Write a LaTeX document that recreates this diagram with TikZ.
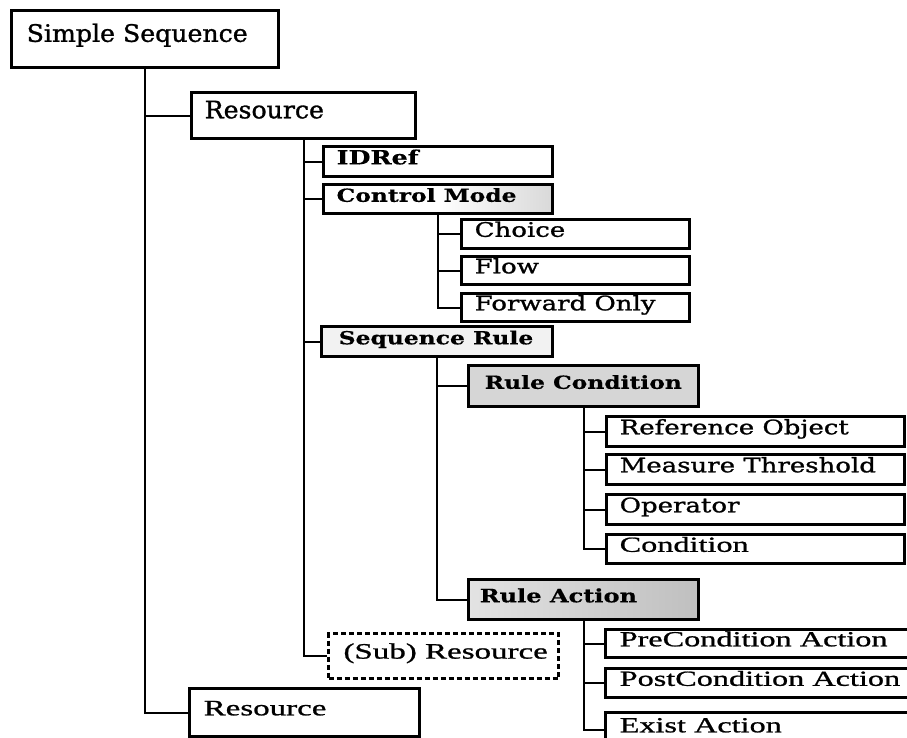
\documentclass[tikz,border=0pt]{standalone}
\usepackage{fontspec}
\newfontfamily\sbfont[FakeStretch=1.3,FakeBold=1.2]{DejaVu Serif}
\newfontfamily\sbboldfont[FakeStretch=1.3,FakeBold=0.5]{DejaVu Serif Bold}
\newfontfamily\sbbigfont[FakeStretch=1.05,FakeBold=1.2]{DejaVu Serif}
\newfontfamily\tmfont[FakeStretch=1.5,FakeBold=1.0]{Liberation Serif}
% fixed-width, left-aligned label line
\newcommand\lblline[2]{\makebox[#1pt][l]{#2}}
\begin{document}
\begin{tikzpicture}[x=1pt,y=-1pt,
  box/.style={draw=black, line width=3.4pt, fill=white, inner ysep=0pt,
    anchor=north west, text height=0.72em, text depth=0.2em},
  dashbox/.style={box, dash pattern=on 5pt off 3pt, line width=3pt},
  big/.style={font=\sbbigfont\fontsize{24}{26}\selectfont},
  sb/.style={font=\sbfont\fontsize{20}{22}\selectfont},
  sbb/.style={font=\sbboldfont\fontsize{18}{20}\selectfont},
  sbbl/.style={font=\sbboldfont\fontsize{18.5}{21}\selectfont},
  tm/.style={font=\tmfont\fontsize{21.5}{23}\selectfont},
  tml/.style={font=\tmfont\fontsize{22}{24}\selectfont},
  conn/.style={draw=black, line width=2.4pt},
]
\useasboundingbox (0,0) rectangle (907,737);

% root and first level
\node[box, big, inner xsep=15pt, minimum height=57pt] (ss) at (10,9) {\lblline{237}{Simple Sequence}};
\node[box, big, inner xsep=13pt, minimum height=46pt] (res1) at (190,91) {\lblline{198}{Resource}};
\node[box, tml, inner xsep=14pt, minimum height=48pt] (res2) at (188,687) {\lblline{202}{Resource}};

% children of the resource
\node[box, font=\sbboldfont\fontsize{19.5}{22}\selectfont, inner xsep=13pt, minimum height=30pt] (idref) at (322,145) {\lblline{203}{IDRef}};
\node[box, sbb, inner xsep=13pt, minimum height=29pt,
      left color=white, right color=gray!30, middle color=white] (cm) at (322,183) {\lblline{203}{Control Mode}};
\node[box, sbb, inner xsep=17pt, minimum height=30pt, fill=gray!10] (seqrule) at (320,325) {\lblline{197}{Sequence Rule}};
\node[dashbox, tml, inner xsep=15pt, minimum height=45pt] (sub) at (327,632) {\lblline{200}{(Sub) Resource}};

% control modes
\node[box, sb, inner xsep=13pt, minimum height=29pt] (choice) at (460,218) {\lblline{202}{Choice}};
\node[box, sb, inner xsep=13pt, minimum height=28pt] (flow) at (460,255) {\lblline{202}{Flow}};
\node[box, sb, inner xsep=13pt, minimum height=28pt] (fwd) at (460,292) {\lblline{202}{Forward Only}};

% rule condition and its parts
\node[box, font=\sbboldfont\fontsize{18}{20}\selectfont, inner xsep=16pt, minimum height=41pt, fill=gray!32] (rc) at (467,364) {\lblline{198}{Rule Condition}};
\node[box, sb, inner xsep=13pt, minimum height=30pt] (refobj) at (605,415) {\lblline{272}{Reference Object}};
\node[box, sb, inner xsep=13pt, minimum height=30pt] (meas) at (605,453) {\lblline{272}{Measure Threshold}};
\node[box, sb, inner xsep=13pt, minimum height=30pt] (oper) at (605,493) {\lblline{272}{Operator}};
\node[box, tm, inner xsep=13pt, minimum height=29pt] (cond) at (605,533) {\lblline{272}{Condition}};

% rule action and its parts
\node[box, sbbl, inner xsep=11pt, minimum height=40pt,
      left color=gray!22, right color=gray!50] (ra) at (467,578) {\lblline{208}{Rule Action}};
\node[box, tm, inner xsep=14pt, minimum height=28pt] (pre) at (604,628) {\lblline{282}{PreCondition Action}};
\node[box, tm, inner xsep=14pt, minimum height=29pt] (post) at (604,667) {\lblline{282}{PostCondition Action}};
\node[box, tm, inner xsep=14pt, minimum height=34pt] (exist) at (604,711) {\lblline{282}{Exist Action}};

% tree connectors
\draw[conn] (ss.south) |- (res1.west);
\draw[conn] (ss.south) |- (res2.west);
\draw[conn] (res1.south) |- (idref.west);
\draw[conn] (res1.south) |- (cm.west);
\draw[conn] (res1.south) |- (seqrule.west);
\draw[conn] (res1.south) |- (sub.west);
\draw[conn] (cm.south) |- (choice.west);
\draw[conn] (cm.south) |- (flow.west);
\draw[conn] (cm.south) |- (fwd.west);
\draw[conn] (seqrule.south) |- (rc.west);
\draw[conn] (seqrule.south) |- (ra.west);
\draw[conn] (rc.south) |- (refobj.west);
\draw[conn] (rc.south) |- (meas.west);
\draw[conn] (rc.south) |- (oper.west);
\draw[conn] (rc.south) |- (cond.west);
\draw[conn] (ra.south) |- (pre.west);
\draw[conn] (ra.south) |- (post.west);
\draw[conn] (ra.south) |- (exist.west);
\end{tikzpicture}
\end{document}
